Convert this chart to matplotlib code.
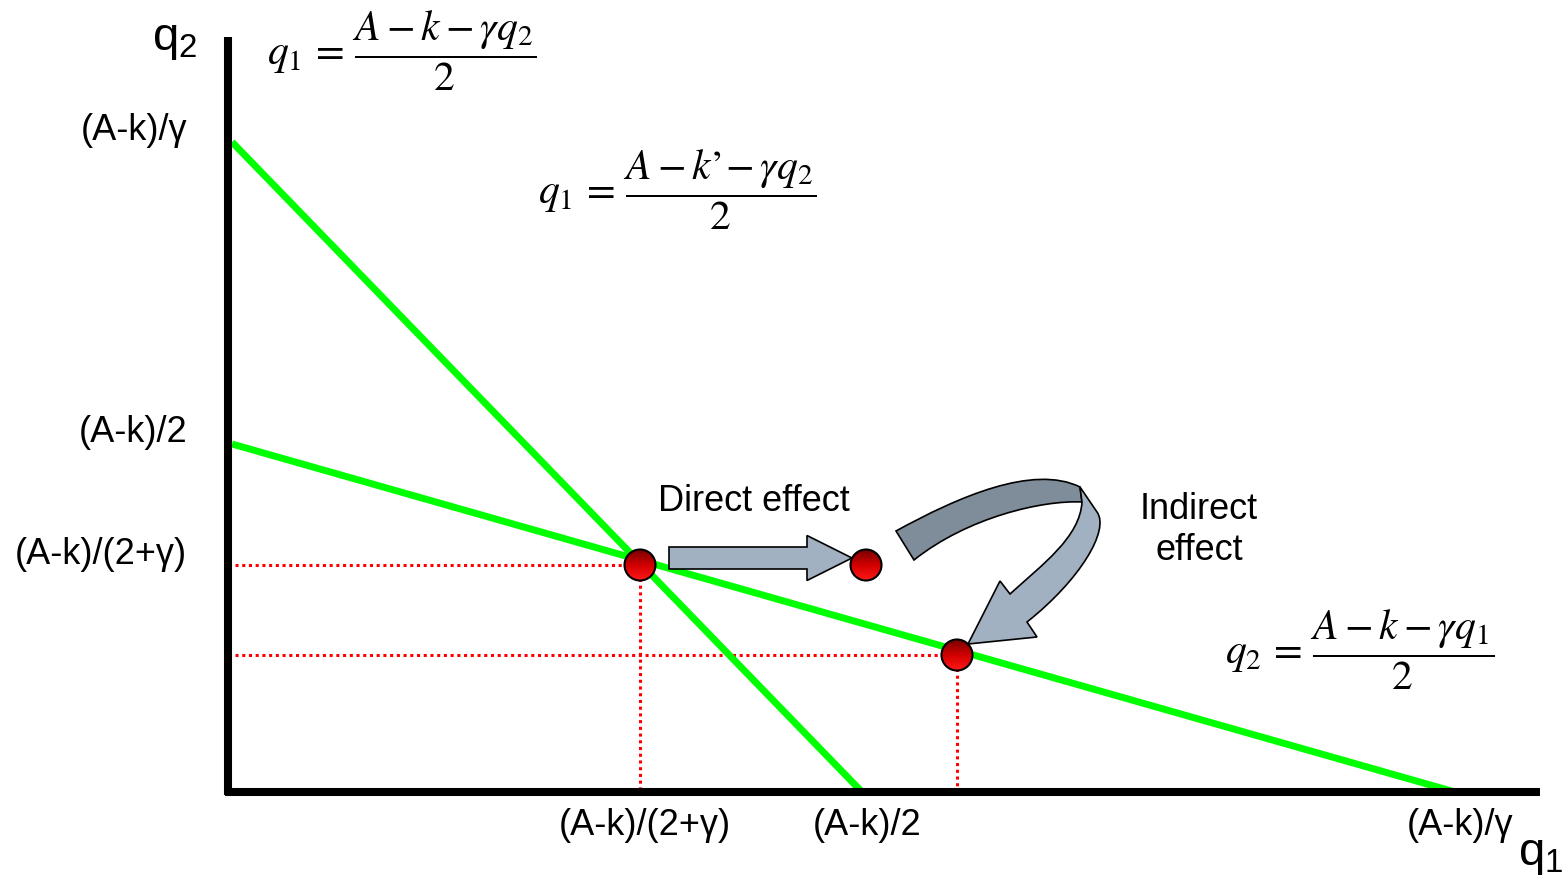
import matplotlib.pyplot as plt
import numpy as np
from matplotlib.colors import LinearSegmentedColormap
from matplotlib.patches import Circle, FancyArrow, PathPatch
from matplotlib.path import Path

plt.rcParams['mathtext.fontset'] = 'custom'
plt.rcParams['mathtext.rm'] = 'Liberation Sans'
plt.rcParams['mathtext.it'] = 'Liberation Sans'
plt.rcParams['font.family'] = ['Liberation Sans', 'DejaVu Sans']

# values of the diagram (arbitrary units, origin at the axes corner)
q1_ticks = [412, 634, 1227]
q1_labels = ['(A-k)/(2+γ)', '(A-k)/2', '(A-k)/γ']
q2_ticks = [650, 348, 227]
q2_labels = ['(A-k)/γ', '(A-k)/2', '(A-k)/(2+γ)']

# best responses: (q1, q2) endpoints
br_firm1_q1 = [4, 634]
br_firm1_q2 = [650, 0]
br_firm2_q1 = [4, 1227]
br_firm2_q2 = [348, 0]

# equilibria: initial, after direct effect, final
eq_q1 = [412, 638, 729]
eq_q2 = [227, 227, 137]

green = '#00ff00'
arrow_light = '#a2b1c1'
arrow_dark = '#7f8c99'

fig = plt.figure(figsize=(15.64, 8.79), dpi=100)
ax = fig.add_axes([0, 0, 1, 1])
ax.set_xlim(-228, 1336)
ax.set_ylim(-86, 793)
ax.axis('off')

# axes
ax.plot([0, 0], [-3, 755], color='black', lw=5.8, solid_capstyle='butt', zorder=3)
ax.plot([-3, 1312], [0, 0], color='black', lw=5.8, solid_capstyle='butt', zorder=3)

# best response lines
ax.plot(br_firm1_q1, br_firm1_q2, color=green, lw=5, solid_capstyle='butt', zorder=2)
ax.plot(br_firm2_q1, br_firm2_q2, color=green, lw=5, solid_capstyle='butt', zorder=2)

# dotted guides to the equilibria
for i in [0, 2]:
    ax.plot([7, eq_q1[i]], [eq_q2[i], eq_q2[i]], color='red', lw=2.2, ls=(0, (1, 1.2)), zorder=1)
    ax.plot([eq_q1[i], eq_q1[i]], [eq_q2[i], 0], color='red', lw=2.2, ls=(0, (1, 1.2)), zorder=1)

# straight "direct effect" arrow
ax.add_patch(FancyArrow(eq_q1[0] + 29, eq_q2[0] + 7, eq_q1[1] - eq_q1[0] - 43, 0,
                        width=22, head_width=45, head_length=45, length_includes_head=True,
                        facecolor=arrow_light, edgecolor='black', lw=1.2, zorder=4))

# curved "indirect effect" arrow
dark = Path([(668, 261), (730, 295), (805, 328), (852, 305), (854, 290),
             (815, 292), (740, 275), (686, 232), (668, 261)],
            [Path.MOVETO, Path.CURVE4, Path.CURVE4, Path.CURVE4, Path.LINETO,
             Path.CURVE4, Path.CURVE4, Path.CURVE4, Path.CLOSEPOLY])
ax.add_patch(PathPatch(dark, facecolor=arrow_dark, edgecolor='black', lw=1.2, zorder=4))
light = Path([(852, 305), (869, 280), (882, 262), (852, 212), (799, 170), (809, 155),
              (740, 148), (772, 211), (782, 198), (815, 228), (852, 255), (854, 290),
              (852, 305)],
             [Path.MOVETO, Path.LINETO, Path.CURVE4, Path.CURVE4, Path.CURVE4, Path.LINETO,
              Path.LINETO, Path.LINETO, Path.LINETO, Path.CURVE4, Path.CURVE4, Path.CURVE4,
              Path.CLOSEPOLY])
ax.add_patch(PathPatch(light, facecolor=arrow_light, edgecolor='black', lw=1.2, zorder=4))

# shaded red balls
grad = np.linspace(1, 0, 64).reshape(-1, 1)
ball_cmap = LinearSegmentedColormap.from_list('ball', ['#7a0000', '#d40000', '#ff1a1a'])
r = 15.5
for x, y in zip(eq_q1, eq_q2):
    circ = Circle((x, y), r, facecolor='none', edgecolor='black', lw=1.5, zorder=6)
    ax.add_patch(circ)
    img = ax.imshow(grad, cmap=ball_cmap, extent=[x - r, x + r, y - r, y + r],
                    origin='lower', zorder=5, aspect='auto', interpolation='bilinear')
    img.set_clip_path(circ)
ax.set_xlim(-228, 1336)
ax.set_ylim(-86, 793)

# tick labels
for v, lab in zip(q2_ticks, q2_labels):
    ax.text(-41, v + 12, lab, ha='right', va='center', fontsize=26)
for v, lab in zip(q1_ticks, q1_labels):
    ax.text(v + 5, -33, lab, ha='center', va='center', fontsize=26)

# axis names
ax.text(-53, 753, r'$\mathrm{q}_2$', ha='center', va='center', fontsize=34, math_fontfamily='custom')
ax.text(1335, -62, r'$\mathrm{q}_1$', ha='right', va='center', fontsize=34, math_fontfamily='custom')

# equations
ax.text(174, 742, r'$q_1 \,=\, \dfrac{A - k - \gamma q_2}{2}$', ha='center', va='center',
        fontsize=30, math_fontfamily='stix')
ax.text(449, 603, r"$q_1 \,=\, \dfrac{A - k’\! - \gamma q_2}{2}$", ha='center', va='center',
        fontsize=30, math_fontfamily='stix')
ax.text(1132, 143, r'$q_2 \,=\, \dfrac{A - k - \gamma q_1}{2}$', ha='center', va='center',
        fontsize=30, math_fontfamily='stix')

# effect labels
ax.text(526, 291, 'Direct effect', ha='center', va='center', fontsize=26)
ax.text(971, 263, 'Indirect\neffect', ha='center', va='center', fontsize=26, linespacing=1.2)

fig.savefig('out.png', dpi=100)
